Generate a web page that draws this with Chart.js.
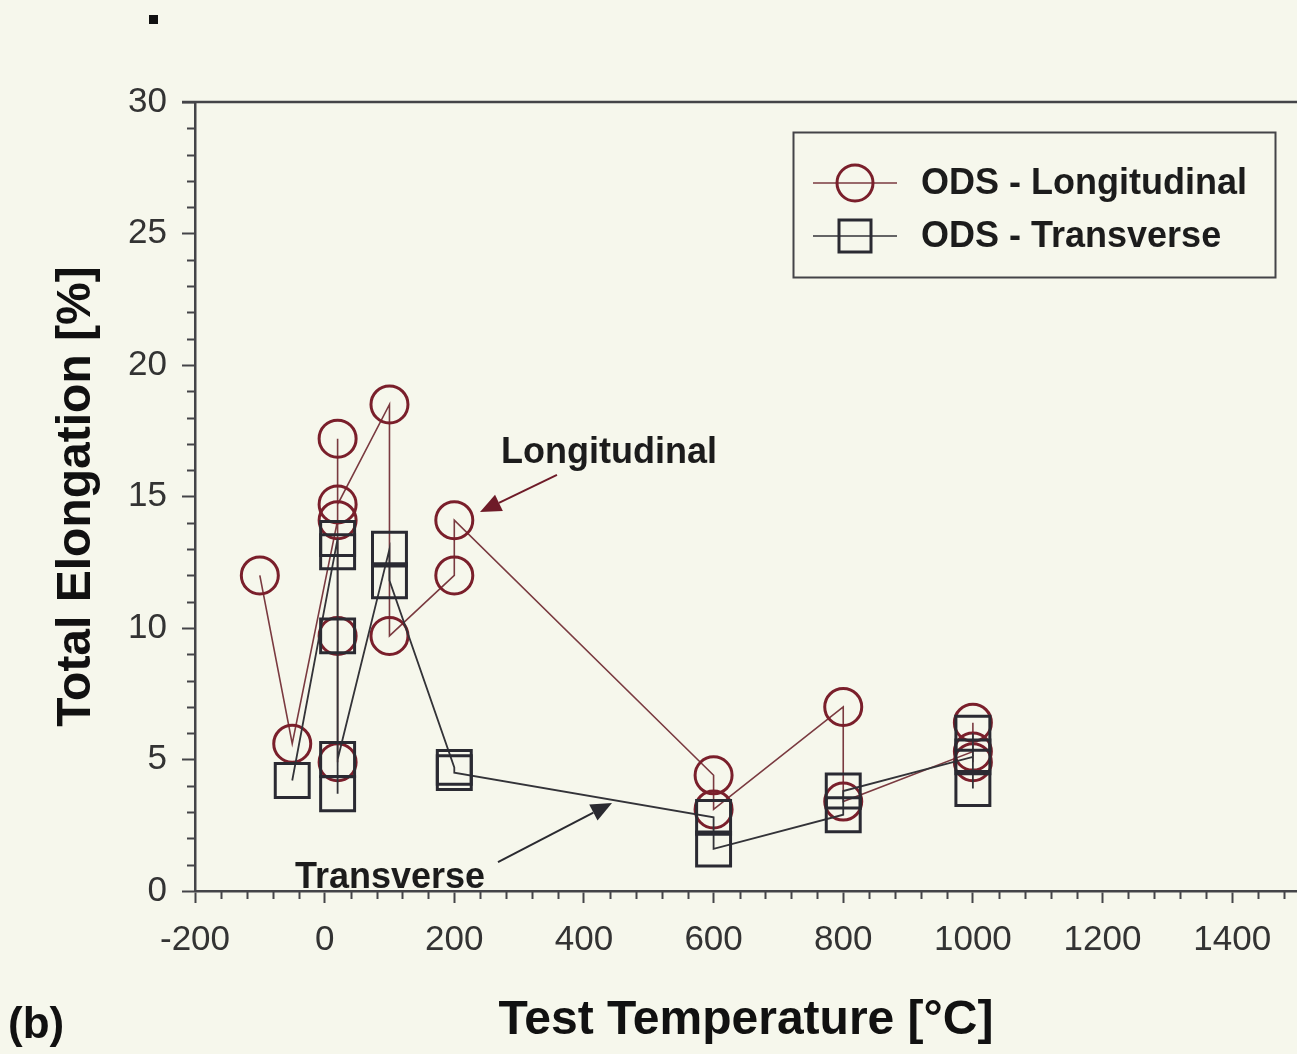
<!DOCTYPE html>
<html><head><meta charset="utf-8">
<script src="https://cdn.jsdelivr.net/npm/chart.js@4.4.0/dist/chart.umd.min.js"></script>
<style>html,body{margin:0;padding:0;background:#f6f7ec;}canvas{display:block;}</style>
</head><body>
<canvas id="c" width="1297" height="1054"></canvas>
<script>
// ---- data ----
const longTemp  = [-100, -50, 20, 20, 20, 20, 20, 100, 100, 200, 200, 600, 600, 800, 800, 1000, 1000, 1000];
const longElong = [12.0, 5.6, 14.1, 9.7, 4.9, 17.2, 14.7, 18.5, 9.7, 12.0, 14.1, 4.4, 3.1, 7.0, 3.4, 5.3, 6.4, 4.9];
const transTemp  = [-50, 20, 20, 20, 20, 20, 100, 100, 200, 200, 600, 600, 800, 800, 1000, 1000, 1000];
const transElong = [4.2, 13.4, 12.9, 9.7, 3.7, 5.0, 13.0, 11.8, 4.7, 4.5, 2.8, 1.6, 2.9, 3.8, 5.1, 6.0, 3.9];
const xTickValues = [-200, 0, 200, 400, 600, 800, 1000, 1200, 1400];
const yTickValues = [0, 5, 10, 15, 20, 25, 30];
const seriesNames = ['ODS - Longitudinal', 'ODS - Transverse'];
const xTitle = 'Test Temperature [°C]';
const yTitle = 'Total Elongation [%]';
const panelLabel = '(b)';
const notes = [
  {text: 'Longitudinal', tx: 438.7, ty: 16.27, from: [358.4, 15.82], to: [239.7, 14.41], color: '#6e1b28'},
  {text: 'Transverse',  tx: 100.8, ty: 0.11,  from: [267.4, 1.10],  to: [443.3, 3.35],  color: '#2a2a30'}
];

const FONT = "'Liberation Sans', Arial, Helvetica, sans-serif";
const AXIS = '#444448';
const RED = '#7a1f2b';
const DARK = '#2a2a32';
const BG = '#f6f7ec';

const toXY = (xs, ys) => xs.map((v, i) => ({x: v, y: ys[i]}));
const plain = v => String(v);

const deco = {
  id: 'deco',
  beforeDraw(chart) {
    const ctx = chart.ctx;
    ctx.save(); ctx.fillStyle = BG; ctx.fillRect(0, 0, chart.width, chart.height); ctx.restore();
  },
  afterDraw(chart) {
    const {ctx, chartArea: a, scales: {x, y}} = chart;
    ctx.save();
    // top frame line
    ctx.strokeStyle = AXIS; ctx.lineWidth = 2.5;
    ctx.beginPath(); ctx.moveTo(a.left - 13, a.top); ctx.lineTo(chart.width, a.top); ctx.stroke();
    // minor ticks
    ctx.lineWidth = 2; ctx.beginPath();
    for (let v = -200; v <= 1500; v += 40) {
      if (xTickValues.includes(v)) continue;
      const px = Math.round(x.getPixelForValue(v)) + 0.5;
      ctx.moveTo(px, a.bottom); ctx.lineTo(px, a.bottom + 8);
    }
    for (let v = 0; v <= 30; v += 1) {
      if (yTickValues.includes(v)) continue;
      const py = Math.round(y.getPixelForValue(v)) + 0.5;
      ctx.moveTo(a.left, py); ctx.lineTo(a.left - 8, py);
    }
    ctx.stroke();

    // annotations with arrows
    notes.forEach(n => {
      const x0 = x.getPixelForValue(n.from[0]), y0 = y.getPixelForValue(n.from[1]);
      const x1 = x.getPixelForValue(n.to[0]), y1 = y.getPixelForValue(n.to[1]);
      const ang = Math.atan2(y1 - y0, x1 - x0);
      const hl = 21, hw = 9;
      const bx = x1 - hl * Math.cos(ang), by = y1 - hl * Math.sin(ang);
      ctx.strokeStyle = n.color; ctx.fillStyle = n.color; ctx.lineWidth = 2;
      ctx.beginPath(); ctx.moveTo(x0, y0); ctx.lineTo(bx, by); ctx.stroke();
      ctx.beginPath();
      ctx.moveTo(x1, y1);
      ctx.lineTo(bx + hw * Math.sin(ang), by - hw * Math.cos(ang));
      ctx.lineTo(bx - hw * Math.sin(ang), by + hw * Math.cos(ang));
      ctx.closePath(); ctx.fill();
      ctx.fillStyle = '#1c1c1c';
      ctx.font = 'bold 36px ' + FONT;
      ctx.textAlign = 'center'; ctx.textBaseline = 'alphabetic';
      ctx.fillText(n.text, x.getPixelForValue(n.tx), y.getPixelForValue(n.ty));
    });

    // legend box
    const L = {x: 793, y: 132, w: 482, h: 145};
    ctx.fillStyle = BG; ctx.fillRect(L.x, L.y, L.w, L.h);
    ctx.strokeStyle = AXIS; ctx.lineWidth = 2;
    ctx.strokeRect(L.x + 0.5, L.y + 0.5, L.w, L.h);
    const rows = [
      {y: 183, color: RED, lineColor: '#7a3a40', kind: 'circle'},
      {y: 236, color: DARK, lineColor: '#333338', kind: 'rect'}
    ];
    rows.forEach((r, i) => {
      ctx.strokeStyle = r.lineColor; ctx.lineWidth = 1.6;
      ctx.beginPath(); ctx.moveTo(813, r.y); ctx.lineTo(897, r.y); ctx.stroke();
      ctx.strokeStyle = r.color; ctx.lineWidth = 3;
      ctx.beginPath();
      if (r.kind === 'circle') ctx.arc(855, r.y, 18, 0, Math.PI * 2);
      else ctx.rect(855 - 16, r.y - 16, 32, 32);
      ctx.stroke();
      ctx.fillStyle = '#1c1c1c'; ctx.font = 'bold 36px ' + FONT;
      ctx.textAlign = 'left'; ctx.textBaseline = 'middle';
      ctx.fillText(seriesNames[i], 921, r.y + 1);
    });

    // panel label and small mark
    ctx.fillStyle = '#111';
    ctx.font = 'bold 44px ' + FONT; ctx.textAlign = 'left'; ctx.textBaseline = 'alphabetic';
    ctx.fillText(panelLabel, 8, 1038);
    ctx.fillRect(149, 15, 9, 9);
    ctx.restore();
  }
};

new Chart(document.getElementById('c'), {
  type: 'scatter',
  data: {
    datasets: [
      {
        label: seriesNames[1], data: toXY(transTemp, transElong), showLine: true,
        borderColor: '#333338', borderWidth: 1.8,
        pointStyle: 'rect', pointRadius: 24, pointHoverRadius: 24,
        pointBorderColor: DARK, pointBorderWidth: 3, pointBackgroundColor: 'rgba(0,0,0,0)'
      },
      {
        label: seriesNames[0], data: toXY(longTemp, longElong), showLine: true,
        borderColor: '#7a3a40', borderWidth: 1.6,
        pointStyle: 'circle', pointRadius: 18.5, pointHoverRadius: 18.5,
        pointBorderColor: RED, pointBorderWidth: 3, pointBackgroundColor: 'rgba(0,0,0,0)'
      }
    ]
  },
  options: {
    responsive: false, animation: false, events: [],
    layout: {autoPadding: false, padding: {top: 102, left: 0, right: 0, bottom: 0}},
    plugins: {legend: {display: false}, tooltip: {enabled: false}},
    scales: {
      x: {
        type: 'linear', min: -200, max: 1500, position: 'bottom',
        afterBuildTicks: s => { s.ticks = xTickValues.map(v => ({value: v})); },
        afterFit: s => { s.height = 163; s.paddingLeft = 0; s.paddingRight = 0; },
        border: {display: true, color: AXIS, width: 2.5},
        grid: {drawOnChartArea: false, drawTicks: true, tickLength: 12, tickColor: AXIS, tickWidth: 2},
        ticks: {color: '#333', font: {family: FONT, size: 35}, padding: 16, maxRotation: 0, autoSkip: false, callback: plain},
        title: {display: true, text: xTitle, color: '#111', font: {family: FONT, size: 48, weight: 'bold'}, padding: {top: 0, bottom: 4}}
      },
      y: {
        type: 'linear', min: 0, max: 30,
        afterBuildTicks: s => { s.ticks = yTickValues.map(v => ({value: v})); },
        afterFit: s => { s.width = 195; s.paddingTop = 0; s.paddingBottom = 0; },
        border: {display: true, color: AXIS, width: 2.5},
        grid: {drawOnChartArea: false, drawTicks: true, tickLength: 13, tickColor: AXIS, tickWidth: 2},
        ticks: {color: '#333', font: {family: FONT, size: 35}, padding: 15, autoSkip: false, callback: plain},
        title: {display: true, text: yTitle, color: '#111', font: {family: FONT, size: 48, weight: 'bold'}, padding: {top: 48, bottom: 0}}
      }
    }
  },
  plugins: [deco]
});
</script>
</body></html>
